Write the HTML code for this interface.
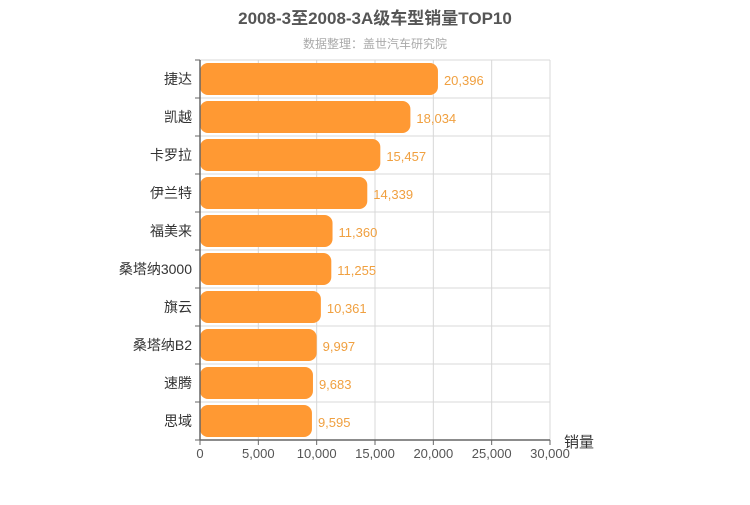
<!DOCTYPE html>
<html><head><meta charset="utf-8"><style>
body{margin:0;background:#fff;}
svg text{font-family:"Liberation Sans","Noto Sans CJK SC",sans-serif;}
</style></head><body>
<svg width="750" height="500">
<text x="375" y="24" text-anchor="middle" font-size="17" font-weight="bold" fill="#555">2008-3至2008-3A级车型销量TOP10</text>
<text x="375" y="48" text-anchor="middle" font-size="12" fill="#aaa">数据整理：盖世汽车研究院</text>
<g id="grid"></g><g id="bars"></g><g id="axes"></g>
<text x="564" y="447" font-size="15" fill="#333">销量</text>
</svg>
<script>
const categories=["捷达","凯越","卡罗拉","伊兰特","福美来","桑塔纳3000","旗云","桑塔纳B2","速腾","思域"];
const values=[20396,18034,15457,14339,11360,11255,10361,9997,9683,9595];
const xTicks=[0,5000,10000,15000,20000,25000,30000];
const NS="http://www.w3.org/2000/svg";
const L=200,R=550,T=60,B=440,MAX=30000;
const xs=v=>L+(v/MAX)*(R-L);
const rowH=(B-T)/categories.length;
function mk(p,t,a){const e=document.createElementNS(NS,t);for(const k in a)e.setAttribute(k,a[k]);p.appendChild(e);return e;}
const grid=document.getElementById('grid'),bars=document.getElementById('bars'),axes=document.getElementById('axes');
xTicks.forEach(t=>{
 const g=mk(grid,'line',{x1:xs(t),x2:xs(t),y1:T,y2:B,stroke:'#d8d8d8'});
 
 
 const tk=mk(axes,'line',{x1:xs(t),x2:xs(t),y1:B,y2:B+5,stroke:'#666'});
 
 
 const tx=mk(axes,'text',{x:xs(t),y:B+18,'text-anchor':'middle','font-size':13,fill:'#555'});
 tx.textContent=t.toLocaleString('en-US');
 
 
});
for(let i=0;i<=categories.length;i++){
 const y=T+i*rowH;
 const g=mk(grid,'line',{x1:L,x2:R,y1:y,y2:y,stroke:'#d8d8d8'});
 
 
 const tk=mk(axes,'line',{x1:L-5,x2:L,y1:y,y2:y,stroke:'#666'});
 
 
}
categories.forEach((c,i)=>{
 const y=T+i*rowH;
 const r=mk(bars,'rect',{x:L,y:y+3,width:Math.max(0,xs(values[i])-L),height:rowH-6,rx:8,fill:'#ff9933'});
 
 
 const v=mk(bars,'text',{x:xs(values[i])+6,y:y+rowH/2+6,'font-size':13,fill:'#f0a040'});
 v.textContent=values[i].toLocaleString('en-US');
 
 
 const lb=mk(axes,'text',{x:L-8,y:y+rowH/2+5,'text-anchor':'end','font-size':14,fill:'#333'});
 lb.textContent=c;
 
 
});
const ya=mk(axes,'line',{x1:L,x2:L,y1:T,y2:B,stroke:'#666','stroke-width':1.5});


const xa=mk(axes,'line',{x1:L,x2:R,y1:B,y2:B,stroke:'#666','stroke-width':1.5});


</script>
</body></html>
